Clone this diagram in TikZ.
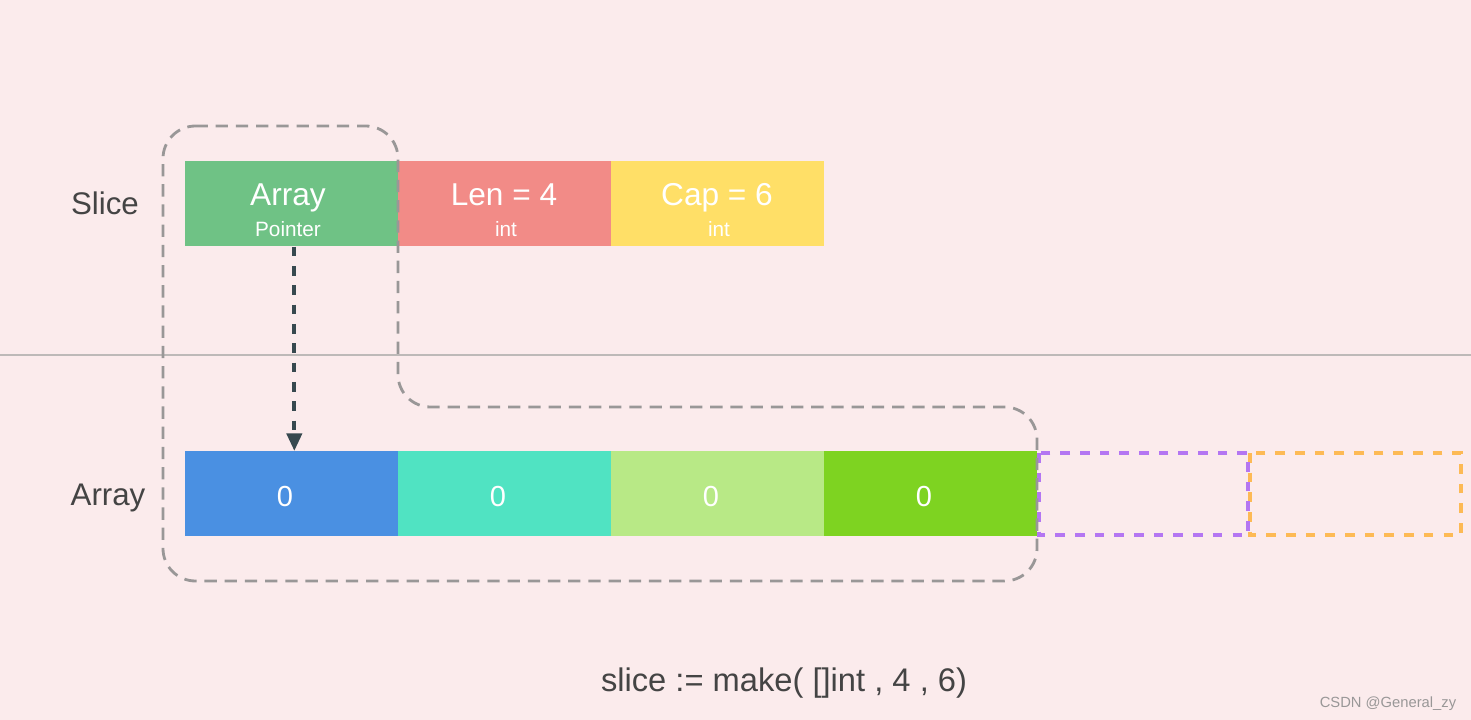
\documentclass[tikz,border=0pt]{standalone}
\usepackage{fontspec}
\setmainfont{Liberation Sans}
\usetikzlibrary{arrows.meta}
\definecolor{bg}{HTML}{FBEBEC}
\definecolor{cgreen}{HTML}{6FC285}
\definecolor{cred}{HTML}{F28B87}
\definecolor{cyellow}{HTML}{FFDF67}
\definecolor{cblue}{HTML}{4A90E2}
\definecolor{cteal}{HTML}{50E3C2}
\definecolor{clime}{HTML}{B8E986}
\definecolor{cgrass}{HTML}{7ED321}
\definecolor{cpurple}{HTML}{B476F2}
\definecolor{corange}{HTML}{FDBA55}
\definecolor{cgray}{HTML}{999797}
\definecolor{cline}{HTML}{BDB9B8}
\definecolor{carrow}{HTML}{37494F}
\definecolor{ctext}{HTML}{444444}
\tikzset{
  cell/.style={rectangle, inner sep=0pt, minimum width=4.26cm, minimum height=1.7cm, anchor=north west},
  big/.style={text=white, anchor=base, inner sep=0pt, font=\fontsize{18}{20}\selectfont},
  zero/.style={text=white, anchor=base, inner sep=0pt, font=\fontsize{16.5}{20}\selectfont},
  small/.style={text=white, anchor=base, inner sep=0pt, font=\fontsize{11.8}{14}\selectfont},
  lbl/.style={text=ctext, anchor=base, inner sep=0pt, font=\fontsize{17.8}{20}\selectfont},
  outline/.style={draw=cgray, line width=1.6pt, dash pattern=on 7pt off 4.5pt, rounded corners=0.65cm},
  spare/.style={line width=2.2pt, dash pattern=on 5.5pt off 5.7pt},
}
\begin{document}
\begin{tikzpicture}[x=0.02cm,y=-0.02cm]
\fill[bg] (0,0) rectangle (1471,720);
\useasboundingbox (0,0) rectangle (1471,720);
% divider
\coordinate (dl) at (0,355);
\coordinate (dr) at (1471,355);
\draw[cline, line width=1.2pt] (dl) -- (dr);
% slice header
\node[cell, fill=cgreen] (sptr) at (185,161) {};
\node[cell, fill=cred] (slen) at (398,161) {};
\node[cell, fill=cyellow] (scap) at (611,161) {};
\node[big] (tptr) at (288,205) {Array};
\node[small] (tptr2) at (288,236) {Pointer};
\node[big] (tlen) at (504,205) {Len = 4};
\node[small] (tlen2) at (506,236) {int};
\node[big] (tcap) at (717,205) {Cap = 6};
\node[small] (tcap2) at (719,236) {int};
% array
\node[cell, fill=cblue] (a0) at (185,451) {};
\node[cell, fill=cteal] (a1) at (398,451) {};
\node[cell, fill=clime] (a2) at (611,451) {};
\node[cell, fill=cgrass] (a3) at (824,451) {};
\node[zero] (z0) at (285,506) {0};
\node[zero] (z1) at (498,506) {0};
\node[zero] (z2) at (711,506) {0};
\node[zero] (z3) at (924,506) {0};
\draw[spare, draw=corange] (1250,453) rectangle (1461,535);
\draw[spare, draw=cpurple] (1039,453) rectangle (1248,535);
% outline
\draw[outline] (163,126) -- (398,126) -- (398,407) -- (1037,407) -- (1037,581) -- (163,581) -- cycle;
% arrow
\draw[carrow, line width=2.3pt, dash pattern=on 5.5pt off 5.5pt, -{Triangle[length=10pt,width=8.5pt]}] ([xshift=0.05cm]sptr.south) -- ([xshift=0.05cm]a0.north);
% labels
\node[lbl] (lslice) at (105,214) {Slice};
\node[lbl] (larray) at (108,505) {Array};
\node[lbl, font=\fontsize{18.6}{22}\selectfont] (code) at (784,691) {slice := make( []int , 4 , 6)};
\node[text=cgray, anchor=base, inner sep=0pt, font=\fontsize{8.4}{10}\selectfont] (wm) at (1388,707) {CSDN @General\_zy};
\end{tikzpicture}
\end{document}
